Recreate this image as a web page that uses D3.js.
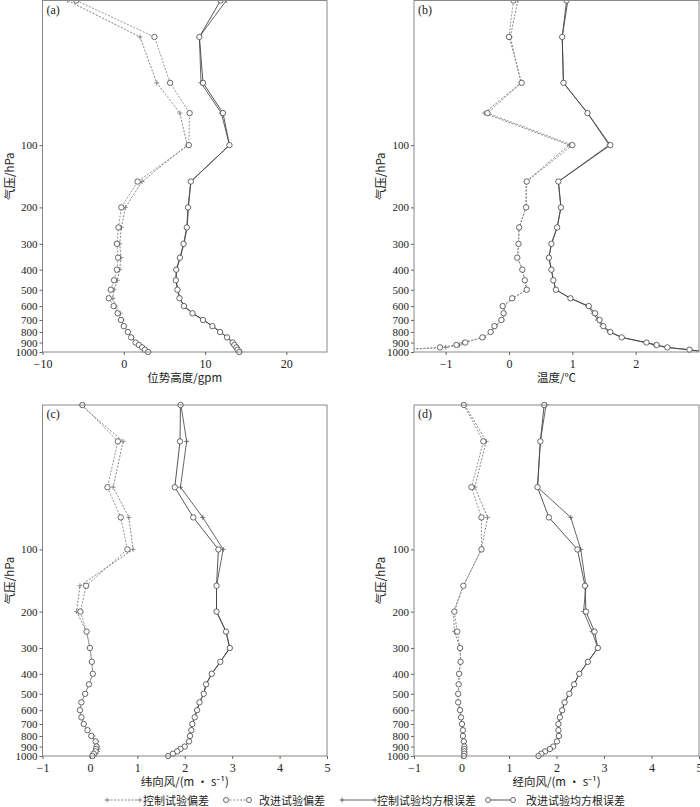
<!DOCTYPE html>
<html><head><meta charset="utf-8">
<script src="https://cdn.jsdelivr.net/npm/d3@7"></script>
<style>body{margin:0;background:#fff}svg{display:block}</style>
</head><body>
<script>
const levels = [20,30,50,70,100,150,200,250,300,350,400,450,500,550,600,650,700,750,800,850,900,925,950,975,1000];
const yTicks = [100,200,300,400,500,600,700,800,900,1000];

// (a) geopotential height (gpm)
const ctrlBiasA = [-6.9,2.0,4.05,6.9,7.8,2.25,0.2,-0.3,-0.5,-0.35,-0.5,-0.8,-1.2,-1.35,-1.0,-0.45,-0.2,0.1,0.6,1.0,1.5,1.9,2.3,2.7,3.1];
const impBiasA  = [-5.85,3.77,5.7,8.1,8.0,1.7,-0.3,-0.65,-0.85,-0.7,-0.85,-1.2,-1.6,-1.85,-1.25,-0.75,-0.35,0.0,0.5,0.9,1.45,1.85,2.25,2.6,3.0];
const ctrlRmseA = [12.6,9.3,9.5,12.0,13.0,8.25,7.95,7.8,7.4,6.95,6.5,6.45,6.65,6.9,7.45,8.5,9.8,10.95,11.9,12.75,13.5,13.75,14.0,14.2,14.4];
const impRmseA  = [11.9,9.3,9.75,12.2,13.0,8.25,7.9,7.75,7.35,6.9,6.45,6.4,6.6,6.85,7.4,8.45,9.75,10.9,11.85,12.7,13.4,13.6,13.85,14.0,14.2];
// (b) temperature (°C)
const ctrlBiasB = [0.14,0.02,0.19,-0.39,0.95,0.27,0.27,0.16,0.15,0.14,0.21,0.25,0.28,0.06,-0.08,-0.07,-0.1,-0.21,-0.28,-0.4,-0.73,-0.78,-1.0,-1.7,-2.2];
const impBiasB  = [0.07,0.0,0.2,-0.34,1.0,0.28,0.27,0.16,0.15,0.13,0.21,0.25,0.28,0.05,-0.1,-0.085,-0.12,-0.23,-0.29,-0.42,-0.69,-0.83,-1.09,-1.75,-2.3];
const ctrlRmseB = [0.93,0.84,0.86,1.24,1.58,0.78,0.82,0.76,0.67,0.63,0.67,0.7,0.74,0.97,1.24,1.33,1.4,1.47,1.58,1.78,2.15,2.3,2.48,2.83,3.1];
const impRmseB  = [0.91,0.84,0.86,1.24,1.6,0.78,0.82,0.76,0.67,0.63,0.67,0.7,0.74,0.97,1.26,1.36,1.43,1.49,1.6,1.78,2.17,2.33,2.5,2.85,3.1];
// (c) zonal wind (m/s)
const ctrlBiasC = [-0.19,0.70,0.49,0.82,0.91,-0.21,-0.28,-0.07,0.0,0.04,0.06,-0.02,-0.1,-0.18,-0.21,-0.18,-0.13,-0.05,0.07,0.15,0.17,0.17,0.16,0.13,0.1];
const impBiasC  = [-0.16,0.59,0.37,0.65,0.79,-0.08,-0.2,-0.07,0.0,0.04,0.06,-0.02,-0.1,-0.18,-0.21,-0.18,-0.13,-0.05,0.03,0.12,0.14,0.13,0.12,0.08,0.05];
const ctrlRmseC = [1.92,2.04,1.91,2.38,2.81,2.67,2.67,2.87,2.95,2.75,2.57,2.45,2.4,2.31,2.26,2.21,2.16,2.14,2.11,2.09,2.0,1.91,1.84,1.75,1.65];
const impRmseC  = [1.91,1.9,1.79,2.18,2.71,2.67,2.67,2.87,2.95,2.75,2.57,2.45,2.4,2.31,2.26,2.21,2.16,2.14,2.11,2.09,2.0,1.91,1.84,1.75,1.65];
// (d) meridional wind (m/s)
const ctrlBiasD = [0.07,0.52,0.28,0.55,0.42,0.04,-0.17,-0.15,-0.03,-0.02,-0.05,-0.06,-0.07,-0.07,-0.03,-0.01,0.01,0.03,0.03,0.05,0.06,0.06,0.06,0.06,0.05];
const impBiasD  = [0.05,0.46,0.21,0.42,0.42,0.04,-0.15,-0.09,-0.03,-0.02,-0.05,-0.06,-0.07,-0.07,-0.03,-0.01,0.01,0.03,0.03,0.05,0.06,0.06,0.06,0.06,0.05];
const ctrlRmseD = [1.78,1.66,1.6,2.3,2.51,2.62,2.57,2.75,2.87,2.66,2.48,2.37,2.27,2.17,2.12,2.07,2.04,2.04,2.05,2.01,1.93,1.86,1.76,1.68,1.62];
const impRmseD  = [1.74,1.66,1.6,1.84,2.44,2.6,2.62,2.8,2.87,2.66,2.48,2.37,2.27,2.17,2.12,2.07,2.04,2.04,2.05,2.01,1.93,1.86,1.76,1.68,1.62];

const xDomains = [[-10,25],[-1.5,3],[-1,5],[-1,5]];
const xTickVals = [[-10,0,10,20],[-1,0,1,2],[-1,0,1,2,3,4,5],[-1,0,1,2,3,4,5]];
const panelLabels = ["(a)","(b)","(c)","(d)"];
const xTitles = ["位势高度/gpm","温度/℃","纬向风/(m · s⁻¹)","经向风/(m · s⁻¹)"];
const yTitle = "气压/hPa";
const legendLabels = ["控制试验偏差","改进试验偏差","控制试验均方根误差","改进试验均方根误差"];

const panelData = [
  [ctrlBiasA, impBiasA, ctrlRmseA, impRmseA],
  [ctrlBiasB, impBiasB, ctrlRmseB, impRmseB],
  [ctrlBiasC, impBiasC, ctrlRmseC, impRmseC],
  [ctrlBiasD, impBiasD, ctrlRmseD, impRmseD]
];

const W = 700, H = 807;
const svg = d3.select("body").append("svg").attr("width", W).attr("height", H);
const serif = "'Liberation Serif','DejaVu Serif',serif";
const cjk = "'Noto Sans CJK SC','Noto Sans',sans-serif";

const frames = [
  {x0:42.5, x1:327, y0:0.5, y1:352},
  {x0:414, x1:699, y0:0.5, y1:352},
  {x0:42.5, x1:327, y0:405, y1:756},
  {x0:414, x1:699, y0:405, y1:756}
];
// series styles: 0 ctrl bias, 1 imp bias, 2 ctrl rmse, 3 imp rmse
const styles = [
  {dash:"2,1.5", color:"#777", marker:"plus"},
  {dash:"2,1.5", color:"#888", marker:"circle"},
  {dash:null, color:"#555", marker:"plus"},
  {dash:null, color:"#444", marker:"circle"}
];

function drawMarker(g, type, x, y, color){
  if(type==="circle"){
    g.append("circle").attr("cx",x).attr("cy",y).attr("r",2.7)
      .attr("fill","#fff").attr("stroke","#444").attr("stroke-width",0.8);
  } else {
    g.append("path").attr("d",`M${x-2.5},${y}H${x+2.5}M${x},${y-2.5}V${y+2.5}`)
      .attr("stroke",color).attr("stroke-width",0.8).attr("fill","none");
  }
}

frames.forEach((f,i)=>{
  const x = d3.scaleLinear().domain(xDomains[i]).range([f.x0,f.x1]);
  const y = d3.scaleLog().domain([20,1000]).range([f.y0,f.y1]);
  const g = svg.append("g");
  const cid = "clip"+i;
  svg.append("clipPath").attr("id",cid).append("rect")
    .attr("x",f.x0).attr("y",f.y0-6).attr("width",f.x1-f.x0).attr("height",f.y1-f.y0+12);

  const plot = g.append("g").attr("clip-path",`url(#${cid})`);
  panelData[i].forEach((vals,s)=>{
    const st = styles[s];
    const line = d3.line().x((d,k)=>x(d)).y((d,k)=>y(levels[k]));
    plot.append("path").attr("d",line(vals)).attr("fill","none")
      .attr("stroke",st.color).attr("stroke-width",0.9)
      .attr("stroke-dasharray",st.dash);
  });
  panelData[i].forEach((vals,s)=>{
    const st = styles[s];
    vals.forEach((v,k)=>drawMarker(plot, st.marker, x(v), y(levels[k]), st.color));
  });

  // frame
  g.append("rect").attr("x",f.x0).attr("y",f.y0).attr("width",f.x1-f.x0).attr("height",f.y1-f.y0)
    .attr("fill","none").attr("stroke","#888").attr("stroke-width",1);

  // x axis
  const xa = g.append("g").attr("transform",`translate(0,${f.y1})`)
    .call(d3.axisBottom(x).tickValues(xTickVals[i]).tickSize(3).tickPadding(4)
      .tickFormat(d=> d<0 ? "\u2212"+Math.abs(d) : d));
  xa.select(".domain").remove();
  xa.selectAll("line").attr("stroke","#666");
  xa.selectAll("text").attr("font-family",serif).attr("font-size",12).attr("fill","#222");

  // y axis
  const ya = g.append("g").attr("transform",`translate(${f.x0},0)`)
    .call(d3.axisLeft(y).tickValues(yTicks).tickSize(3).tickPadding(2).tickFormat(d3.format("d")));
  ya.select(".domain").remove();
  ya.selectAll("line").attr("stroke","#666");
  ya.selectAll("text").attr("font-family",serif).attr("font-size",11).attr("fill","#222");

  // panel label
  g.append("text").attr("x",f.x0+4).attr("y",f.y0+13).text(panelLabels[i])
    .attr("font-family",serif).attr("font-size",12).attr("fill","#222");

  // x title
  g.append("text").attr("x",(f.x0+f.x1)/2).attr("y",f.y1+30).attr("text-anchor","middle")
    .text(xTitles[i]).attr("font-family",cjk).attr("font-size",11.5).attr("fill","#222");

  // y title
  g.append("text").attr("transform",`translate(${f.x0-29},${(f.y0+f.y1)/2}) rotate(-90)`)
    .attr("text-anchor","middle").text(yTitle)
    .attr("font-family",cjk).attr("font-size",11.5).attr("fill","#222");
});

// legend
const legY = 800;
const legItems = [
  {x1:107,x2:140,tx:143,s:0},
  {x1:226,x2:249,tx:259,s:1},
  {x1:342,x2:375,tx:377,s:2},
  {x1:488,x2:513,tx:526,s:3}
];
const lg = svg.append("g");
legItems.forEach((it,idx)=>{
  const st = styles[it.s];
  lg.append("line").attr("x1",it.x1).attr("x2",it.x2).attr("y1",legY).attr("y2",legY)
    .attr("stroke",st.color).attr("stroke-width",0.9).attr("stroke-dasharray",st.dash);
  if(st.marker==="circle"){
    [it.x1,it.x2].forEach(xx=>lg.append("circle").attr("cx",xx).attr("cy",legY).attr("r",2.5)
      .attr("fill","#fff").attr("stroke","#444").attr("stroke-width",0.8));
  } else {
    [it.x1,it.x2].forEach(xx=>lg.append("path").attr("d",`M${xx-2.5},${legY}H${xx+2.5}M${xx},${legY-2.5}V${legY+2.5}`)
      .attr("stroke",st.color).attr("stroke-width",0.8));
  }
  lg.append("text").attr("x",it.tx).attr("y",legY+4.5).text(legendLabels[idx])
    .attr("font-family",cjk).attr("font-size",11).attr("fill","#222");
});
</script>
</body></html>
